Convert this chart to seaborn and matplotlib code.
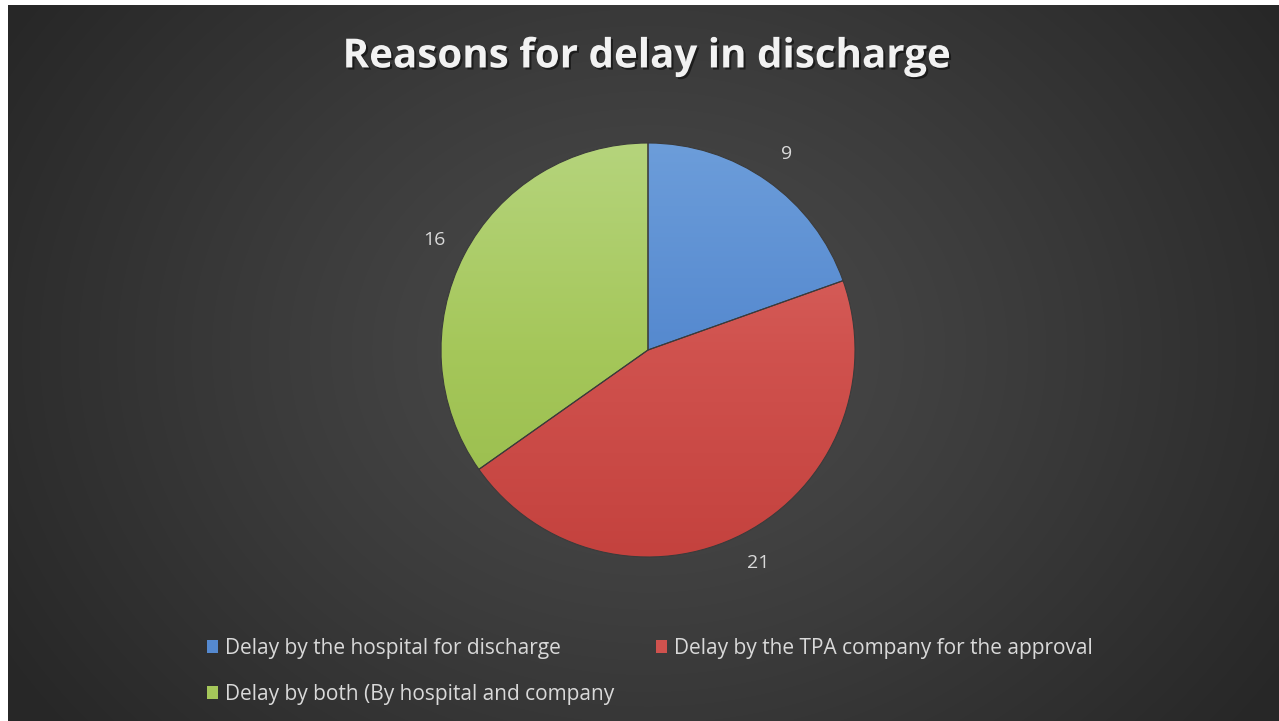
import numpy as np
import matplotlib
matplotlib.use("Agg")
import matplotlib.pyplot as plt
import matplotlib.patheffects as pe
from matplotlib.colors import LinearSegmentedColormap
import seaborn as sns

# data
reasons = [
    "Delay by the hospital for discharge",
    "Delay by the TPA company for the approval",
    "Delay by both (By hospital and company",
]
counts = [9, 21, 16]
title = "Reasons for delay in discharge"

sns.set_style("dark")
plt.rcParams["font.family"] = ["Open Sans", "DejaVu Sans"]

# slice colours (top, base, bottom of gradient)
shades = [
    ("#6c9dda", "#5589cf", "#4677c2"),
    ("#dc6c68", "#d0524e", "#c4423e"),
    ("#b5d47c", "#a5c75a", "#97bb4a"),
]

fig = plt.figure(figsize=(12.79, 7.21), dpi=100)
fig.patch.set_facecolor("white")

# dark radial background
bg = fig.add_axes([8 / 1279, 0, 1 - 8 / 1279, 716 / 721])
yy, xx = np.mgrid[0:716, 0:1271]
d = np.sqrt(((xx - 640) / 760.0) ** 2 + ((yy - 345) / 620.0) ** 2)
d = np.clip(d, 0, 1)
bg_cmap = LinearSegmentedColormap.from_list("bg", ["#4d4d4d", "#3b3b3b", "#272727"])
bg.imshow(d, cmap=bg_cmap, aspect="auto", vmin=0, vmax=1)
bg.set_axis_off()

# pie
cx, cy, r = 648, 350, 207
ax = fig.add_axes([(cx - r) / 1279, (721 - cy - r) / 721, 2 * r / 1279, 2 * r / 721])
wedges, _, autotexts = ax.pie(
    counts,
    colors=[s[1] for s in shades],
    startangle=90,
    counterclock=False,
    radius=1,
    autopct=lambda p: f"{p * sum(counts) / 100:.0f}",
    pctdistance=1.16,
    wedgeprops=dict(edgecolor="#3b3b3b", linewidth=0.8),
    textprops=dict(color="#d9d9d9", fontsize=14),
)
ax.set_xlim(-1, 1)
ax.set_ylim(-1, 1)
ax.set_axis_off()

grad = np.linspace(0, 1, 256).reshape(-1, 1)
for w, (top, mid, bot) in zip(wedges, shades):
    cm = LinearSegmentedColormap.from_list("w", [top, mid, bot])
    im = ax.imshow(grad, cmap=cm, extent=(-1, 1, -1, 1), aspect="auto", zorder=1)
    im.set_clip_path(w)
    w.set_zorder(2)
    w.set_facecolor("none")

fig.text(0.505, 0.921, title, ha="center", va="center", fontsize=29,
         fontweight="bold", color="#f2f2f2",
         path_effects=[pe.withSimplePatchShadow(offset=(1.5, -1.5), shadow_rgbFace="black", alpha=0.5)])

# legend: column 1 = blue, green ; column 2 = red
handles = [plt.Rectangle((0, 0), 1, 1, facecolor=s[1], edgecolor="none") for s in shades]
order = [0, 2, 1]
leg = fig.legend(
    [handles[i] for i in order],
    [reasons[i] for i in order],
    ncol=2,
    loc="upper left",
    bbox_to_anchor=(188 / 1279, 1 - 619 / 721),
    frameon=False,
    fontsize=15,
    handlelength=0.55,
    handleheight=0.55,
    handletextpad=0.33,
    columnspacing=2.0,
    labelspacing=1.2,
)
for t in leg.get_texts():
    t.set_color("#d9d9d9")

fig.savefig("out.png", dpi=100, facecolor=fig.get_facecolor())
